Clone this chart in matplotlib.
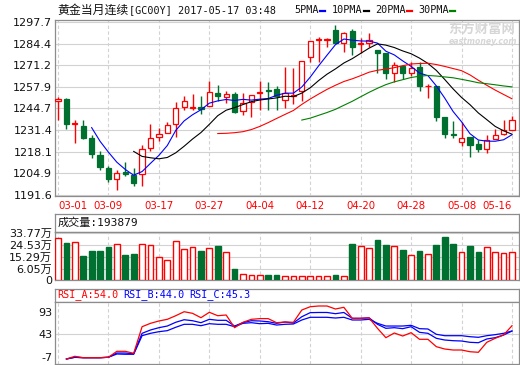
import numpy as np
import pandas as pd
import matplotlib
matplotlib.use('Agg')
import matplotlib.pyplot as plt
from matplotlib.patches import Rectangle
from matplotlib.lines import Line2D

# ---------------- data ----------------
date_labels = ['03-01', '03-09', '03-17', '03-27', '04-04', '04-12', '04-20', '04-28', '05-08', '05-16']
label_step = 6

opens = [1249.3, 1250.7, 1235.1, 1234.1, 1226.4, 1216.1, 1208.2, 1201.3, 1205.7, 1204.1,
         1204.3, 1220.7, 1227.4, 1229.9, 1235.3, 1245.7, 1244.8, 1245.7, 1246.3, 1254.2,
         1251.7, 1253.6, 1243.4, 1248.5, 1254.2, 1256.0, 1256.6, 1250.1, 1252.2, 1255.1,
         1275.9, 1286.4, 1286.4, 1292.7, 1284.8, 1292.0, 1284.0, 1284.6, 1280.5, 1278.9,
         1266.3, 1270.8, 1266.3, 1270.2, 1258.3, 1258.6, 1239.2, 1228.8, 1224.4, 1227.0,
         1222.7, 1220.1, 1226.2, 1229.3, 1231.7]
highs = [1251.5, 1251.3, 1237.3, 1237.9, 1228.4, 1218.7, 1209.6, 1206.9, 1211.6, 1208.0,
         1222.6, 1234.9, 1232.6, 1236.1, 1248.5, 1252.5, 1253.7, 1252.5, 1261.6, 1259.0,
         1255.1, 1254.5, 1254.2, 1253.1, 1261.2, 1261.0, 1258.2, 1270.2, 1269.4, 1273.8,
         1285.9, 1288.6, 1287.6, 1295.7, 1291.3, 1293.1, 1287.6, 1290.6, 1280.5, 1278.9,
         1272.8, 1271.1, 1272.8, 1272.8, 1259.6, 1258.6, 1239.5, 1236.7, 1236.4, 1227.0,
         1225.4, 1228.2, 1232.3, 1237.8, 1239.9]
lows = [1237.5, 1232.0, 1223.5, 1225.8, 1214.4, 1207.1, 1199.6, 1195.0, 1203.5, 1197.4,
        1197.4, 1218.7, 1224.8, 1229.9, 1227.2, 1243.6, 1243.6, 1241.2, 1246.0, 1249.1,
        1248.1, 1241.8, 1240.4, 1239.3, 1244.0, 1243.6, 1243.6, 1245.0, 1247.1, 1249.5,
        1272.8, 1272.8, 1282.5, 1284.6, 1279.5, 1277.5, 1278.5, 1282.3, 1266.3, 1262.7,
        1260.9, 1262.7, 1264.3, 1255.6, 1251.3, 1236.7, 1226.8, 1226.7, 1221.9, 1215.1,
        1218.1, 1217.6, 1226.2, 1228.2, 1231.7]
closes = [1250.7, 1235.1, 1235.5, 1226.6, 1216.8, 1208.9, 1201.6, 1204.9, 1204.5, 1199.2,
          1220.1, 1226.8, 1229.2, 1234.7, 1245.2, 1249.3, 1245.7, 1244.4, 1255.0, 1252.1,
          1253.6, 1242.6, 1247.9, 1252.7, 1255.0, 1255.6, 1252.4, 1254.4, 1252.8, 1273.8,
          1285.8, 1287.0, 1287.0, 1284.9, 1291.1, 1282.3, 1284.6, 1286.4, 1278.9, 1266.3,
          1271.0, 1266.3, 1269.7, 1258.2, 1258.6, 1239.5, 1229.1, 1228.5, 1226.8, 1222.3,
          1220.1, 1225.6, 1228.2, 1231.3, 1237.8]

# volume in 万 (10k lots)
volume = [29.9, 26.3, 26.8, 16.3, 20.1, 20.1, 23.2, 25.5, 17.1, 17.8,
          25.5, 24.5, 15.3, 13.0, 27.6, 21.4, 23.0, 20.1, 22.2, 24.2,
          19.1, 6.3, 2.4, 1.4, 1.4, 1.4, 1.4, 1.1, 1.1, 1.1,
          1.1, 1.1, 1.1, 1.4, 1.1, 25.5, 24.0, 22.2, 28.6, 24.8,
          24.0, 20.9, 16.8, 20.1, 17.8, 24.8, 30.7, 25.5, 19.1, 24.0,
          19.4, 23.0, 19.1, 18.4, 19.39]

nan = np.nan
rsi_a = [nan, -11.9, -5.9, -9.0, -9.0, -9.0, -8.0, 5.2, 5.2, 0.8,
         59.9, 67.4, 72.6, 76.3, 84.3, 93.2, 89.6, 79.9, 91.9, 84.3,
         85.9, 57.7, 69.7, 76.3, 77.8, 77.8, 68.8, 70.3, 69.7, 97.0,
         104.3, 105.9, 105.9, 99.2, 103.0, 78.5, 78.5, 79.6, 56.3, 35.5,
         45.9, 39.2, 46.6, 31.9, 31.9, 15.5, 10.3, 8.1, 8.1, 4.3,
         3.0, 25.2, 34.1, 41.4, 62.1]
rsi_b = [nan, -11.9, -8.1, -9.0, -9.0, -9.0, -8.0, 1.4, 1.4, -0.3,
         45.2, 52.6, 57.7, 61.4, 69.7, 75.4, 73.2, 68.8, 76.3, 74.1,
         74.1, 61.4, 69.0, 73.2, 72.6, 71.0, 67.4, 70.3, 68.1, 82.1,
         91.1, 91.5, 91.5, 88.8, 91.5, 78.5, 78.5, 79.6, 65.2, 56.3,
         57.7, 55.5, 59.9, 47.4, 45.2, 34.1, 30.3, 28.8, 28.1, 25.2,
         24.3, 32.6, 35.5, 41.4, 50.3]
rsi_c = [nan, -11.9, -8.1, -9.0, -9.0, -9.0, -8.0, -0.8, -1.4, -1.4,
         40.0, 45.2, 48.8, 51.1, 58.6, 65.2, 65.2, 62.1, 66.6, 65.2,
         65.2, 59.9, 67.4, 68.8, 66.6, 67.4, 63.6, 65.2, 65.9, 74.8,
         80.8, 80.8, 80.8, 79.2, 80.8, 74.8, 74.8, 76.3, 67.4, 61.4,
         61.4, 61.4, 63.0, 55.5, 54.8, 43.0, 39.9, 39.9, 39.9, 37.7,
         36.3, 39.9, 42.2, 45.2, 50.3]

price_ticks = [1297.7, 1284.4, 1271.2, 1257.9, 1244.7, 1231.4, 1218.1, 1204.9, 1191.6]
vol_ticks = [6.05, 15.29, 24.53, 33.77]
vol_tick_labels = ['6.05万', '15.29万', '24.53万', '33.77万']
rsi_ticks = [93, 43, -7]
ma_periods = [5, 10, 20, 30]
ma_names = ['5PMA', '10PMA', '20PMA', '30PMA']

title_cn = '黄金当月连续'
title_rest = '[GC00Y] 2017-05-17 03:48'
vol_title = '成交量:193879'
rsi_names = ['RSI_A:54.0', 'RSI_B:44.0', 'RSI_C:45.3']

# ---------------- style ----------------
W, H = 520, 365
RED = '#ff0000'
GREEN = '#007030'
GRID = '#d2d2d2'
SPINE = '#8c8c8c'
ma_colors = ['#0000ff', '#000000', '#ff0000', '#008000']
rsi_colors = ['#ff0000', '#0000ff', '#0000ff']
VOL_FLOOR = -2.3      # the panel's floor, labelled "0" as in the source chart
VOL_TOP = 34.77

plt.rcParams['font.family'] = ['DejaVu Sans', 'Noto Sans CJK SC']

fig = plt.figure(figsize=(W / 100, H / 100), dpi=100)
fig.patch.set_facecolor('white')


def rect(x0, y0, x1, y1):
    return [x0 / W, 1 - y1 / H, (x1 - x0) / W, (y1 - y0) / H]


def fx(x):
    return x / W


def fy(y):
    return 1 - y / H


n = len(closes)
idx = np.arange(n)
tick_idx = np.arange(0, n, label_step)
XL = (-0.36, n - 1 + 0.87)


def style_axes(ax):
    for s in ax.spines.values():
        s.set_color(SPINE)
        s.set_linewidth(0.9)
    ax.tick_params(length=0, pad=2, labelsize=8, colors='#111111')
    ax.set_xlim(*XL)
    for t in tick_idx:
        ax.axvline(t, color=GRID, lw=0.8, ls=(0, (3, 2.2)), zorder=0)


def header_axes(r):
    a = fig.add_axes(r)
    a.set_xticks([])
    a.set_yticks([])
    for s in a.spines.values():
        s.set_color(SPINE)
        s.set_linewidth(0.9)
    return a


# ---------------- main price panel ----------------
ax = fig.add_axes(rect(55, 20, 519.3, 195.5))
style_axes(ax)
ax.set_ylim(1191.4, 1298.8)
ax.set_yticks(price_ticks)
ax.set_yticklabels([f'{v:.1f}' for v in price_ticks])
for v in price_ticks:
    ax.axhline(v, color=GRID, lw=0.8, zorder=0)
ax.set_xticks(tick_idx)
ax.set_xticklabels(date_labels, color=RED, fontsize=7.3)
ax.tick_params(axis='x', pad=4)
xtl = ax.get_xticklabels()
xtl[0].set_horizontalalignment('left')
xtl[-1].set_horizontalalignment('right')

bw = 0.62
for i in idx:
    o, h, l, c = opens[i], highs[i], lows[i], closes[i]
    up = c > o
    col = RED if up else GREEN
    ax.vlines(i, l, h, color=col, lw=1.0, zorder=3)
    bot = min(o, c)
    ht = max(abs(c - o), 0.15)
    ax.add_patch(Rectangle((i - bw / 2, bot), bw, ht,
                           facecolor='white' if up else GREEN,
                           edgecolor=col, lw=0.9, zorder=4))

cs = pd.Series(closes)
for p, colr in zip(ma_periods, ma_colors):
    ma = cs.rolling(p).mean()
    ax.plot(idx, ma.values, color=colr, lw=0.8, zorder=5)

# watermark
fig.text(fx(448), fy(29), '东方财富网', fontsize=9.6, color='#d6d6d6',
         fontweight='bold', family=['Noto Sans CJK SC'], va='center', ha='left', zorder=1)
fig.text(fx(449), fy(41), 'eastmoney.com', fontsize=5.6, color='#d6d6d6',
         fontweight='bold', style='italic', va='center', ha='left', zorder=1)

# title
fig.text(fx(57), fy(10), title_cn, fontsize=8.6, family=['Noto Sans CJK SC'],
         va='center', ha='left', color='#111111')
fig.text(fx(129), fy(10), title_rest, fontsize=7.3, family=['DejaVu Sans Mono'],
         va='center', ha='left', color='#111111')
leg_x = [294, 332, 375, 418]
for name, colr, x0 in zip(ma_names, ma_colors, leg_x):
    fig.text(fx(x0), fy(10), name, fontsize=7.3, family=['DejaVu Sans Mono'],
             va='center', ha='left', color='#111111')
    w = 6.05 * len(name)
    fig.add_artist(Line2D([fx(x0 + w + 2), fx(x0 + w + 7)], [fy(10.5), fy(10.5)],
                          color=colr, lw=1.6, transform=fig.transFigure))

# ---------------- volume panel ----------------
hv = header_axes(rect(55, 214, 519.3, 232))
hv.text(0.005, 0.5, vol_title, transform=hv.transAxes, fontsize=8,
        family=['DejaVu Sans Mono', 'Noto Sans CJK SC'], va='center', ha='left', color='#111111')

av = fig.add_axes(rect(55, 232, 519.3, 280))
style_axes(av)
av.set_ylim(VOL_FLOOR, VOL_TOP)
av.set_yticks([VOL_FLOOR] + vol_ticks)
av.set_yticklabels(['0'] + vol_tick_labels)
av.set_xticks([])
for v in vol_ticks:
    av.axhline(v, color=GRID, lw=0.8, zorder=0)
for i in idx:
    up = closes[i] > opens[i]
    col = RED if up else GREEN
    av.add_patch(Rectangle((i - 0.34, VOL_FLOOR), 0.68, volume[i] - VOL_FLOOR,
                           facecolor='white' if up else GREEN,
                           edgecolor=col, lw=1.0, zorder=3))

# ---------------- RSI panel ----------------
hr = header_axes(rect(55, 288.5, 519.3, 301.5))
rx = [57, 123, 189]
for name, colr, x0 in zip(rsi_names, rsi_colors, rx):
    fig.text(fx(x0), fy(295), name, fontsize=7.3, family=['DejaVu Sans Mono'],
             va='center', ha='left', color=colr)

ar = fig.add_axes(rect(55, 301.5, 519.3, 364))
style_axes(ar)
ar.set_ylim(-23, 115.9)
ar.set_yticks(rsi_ticks)
ar.set_yticklabels([str(v) for v in rsi_ticks])
ar.set_xticks([])
ar.axhline(43, color=GRID, lw=0.8, zorder=0)
for series, colr in zip([rsi_c, rsi_b, rsi_a], rsi_colors[::-1]):
    ar.plot(idx, series, color=colr, lw=0.9, zorder=3)

fig.savefig('out.png', dpi=100)
